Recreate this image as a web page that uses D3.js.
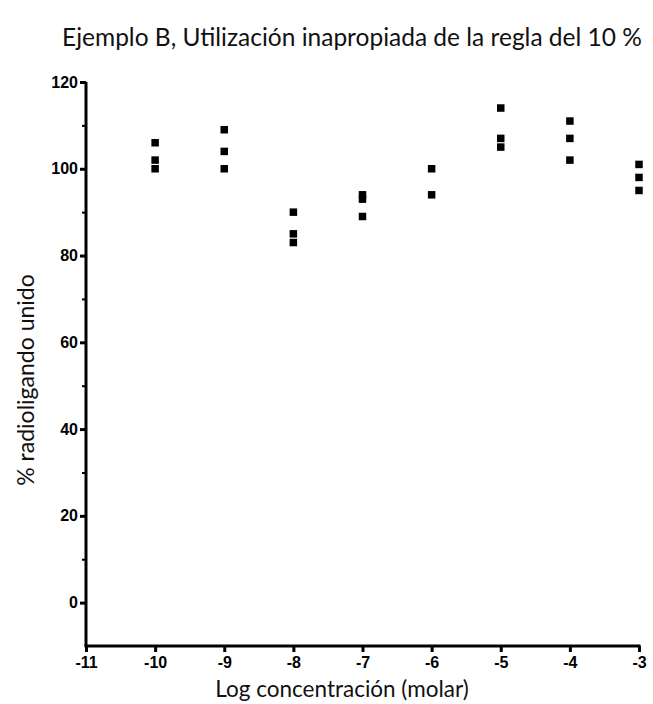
<!DOCTYPE html>
<html>
<head>
<meta charset="utf-8">
<script src="https://cdn.jsdelivr.net/npm/d3@7"></script>
<style>
  html, body { margin: 0; padding: 0; background: #fff; }
  svg { display: block; }
</style>
</head>
<body>
<svg id="chart" width="653" height="704"></svg>
<script>
// Log concentration (molar) for each triplicate group
const logConc = [-10, -9, -8, -7, -6, -5, -4, -3];
// % radioligand bound, replicate readings per concentration
const replicates = [
  [106, 102, 100],
  [109, 104, 100],
  [90, 85, 83],
  [94, 93, 89],
  [100, 94],
  [114, 107, 105],
  [111, 107, 102],
  [101, 98, 95]
];
const xTicks = [-11, -10, -9, -8, -7, -6, -5, -4, -3];
const yMajorTicks = [0, 20, 40, 60, 80, 100, 120];
const yMinorTicks = [10, 30, 50, 70, 90, 110];

const titleText = "Ejemplo B, Utilización inapropiada de la regla del 10 %";
const xTitle = "Log concentración (molar)";
const yTitle = "% radioligando unido";

const svg = d3.select("#chart");

const x = d3.scaleLinear().domain([-11, -3]).range([86, 639]);
const y = d3.scaleLinear().domain([-10, 120]).range([646, 82]);

const tickFont = "'Liberation Sans', Arial, sans-serif";
const textFont = "Lato, 'Open Sans', sans-serif";
// plain hyphen for negative numbers
const fmt = d => String(d);

// X axis
const xAxis = svg.append("g")
  .attr("transform", `translate(0,${y(-10)})`)
  .call(d3.axisBottom(x).tickValues(xTicks).tickSize(6).tickSizeOuter(0).tickPadding(5).tickFormat(fmt));
xAxis.select(".domain").attr("stroke", "#000").attr("stroke-width", 3)
  .attr("d", `M${x(-11) - 1.5},0H${x(-3) + 1.5}`);
xAxis.selectAll(".tick line").attr("stroke", "#000").attr("stroke-width", 3);
xAxis.selectAll(".tick text")
  .attr("fill", "#000").attr("font-family", tickFont)
  .attr("font-weight", "bold").attr("font-size", 16);

// Y axis, major ticks
const yAxis = svg.append("g")
  .attr("transform", `translate(${x(-11)},0)`)
  .call(d3.axisLeft(y).tickValues(yMajorTicks).tickSize(6).tickSizeOuter(0).tickPadding(2).tickFormat(fmt));
yAxis.select(".domain").attr("stroke", "#000").attr("stroke-width", 3)
  .attr("d", `M0,${y(120)}V${y(-10)}`);
yAxis.selectAll(".tick line").attr("stroke", "#000").attr("stroke-width", 3);
yAxis.selectAll(".tick text")
  .attr("fill", "#000").attr("font-family", tickFont)
  .attr("font-weight", "bold").attr("font-size", 16);

// Y axis, minor ticks
svg.append("g")
  .attr("transform", `translate(${x(-11)},0)`)
  .call(d3.axisLeft(y).tickValues(yMinorTicks).tickSize(4).tickFormat(""))
  .call(g => g.select(".domain").remove())
  .selectAll(".tick line").attr("stroke", "#000").attr("stroke-width", 2);

// Replicate points as filled squares
const points = [];
logConc.forEach((c, i) => replicates[i].forEach(v => points.push({ c, v })));
const sq = 7.5;
svg.append("g").selectAll("rect")
  .data(points)
  .join("rect")
  .attr("x", d => x(d.c) - sq / 2)
  .attr("y", d => y(d.v) - sq / 2)
  .attr("width", sq)
  .attr("height", sq)
  .attr("fill", "#000");

// Titles
svg.append("text")
  .attr("x", 352).attr("y", 46)
  .attr("text-anchor", "middle")
  .attr("font-family", textFont).attr("font-size", 24.5)
  .attr("fill", "#111")
  .text(titleText);

svg.append("text")
  .attr("x", 342).attr("y", 697)
  .attr("text-anchor", "middle")
  .attr("font-family", textFont).attr("font-size", 22.5)
  .attr("fill", "#111")
  .text(xTitle);

svg.append("text")
  .attr("transform", `translate(34,380) rotate(-90)`)
  .attr("text-anchor", "middle")
  .attr("font-family", textFont).attr("font-size", 23)
  .attr("fill", "#111")
  .text(yTitle);
</script>
</body>
</html>
